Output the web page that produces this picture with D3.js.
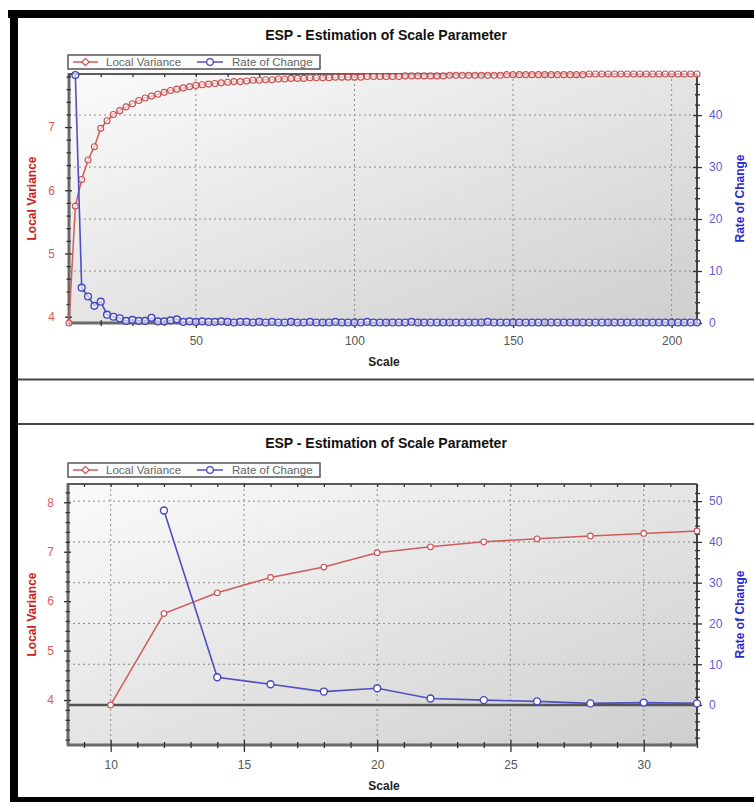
<!DOCTYPE html>
<html><head><meta charset="utf-8">
<script src="https://cdn.jsdelivr.net/npm/d3@7"></script>
<style>body{margin:0;background:#fff}svg{display:block;font-family:"Liberation Sans",Arial,sans-serif}</style>
</head><body><svg id="c" width="754" height="802"></svg>
<script>
const chartTitle = "ESP - Estimation of Scale Parameter";
const seriesNames = ["Local Variance", "Rate of Change"];
const xAxisTitle = "Scale";

const scales = [
  10,12,14,16,18,20,22,24,26,28,
  30,32,34,36,38,40,42,44,46,48,
  50,52,54,56,58,60,62,64,66,68,
  70,72,74,76,78,80,82,84,86,88,
  90,92,94,96,98,100,102,104,106,108,
  110,112,114,116,118,120,122,124,126,128,
  130,132,134,136,138,140,142,144,146,148,
  150,152,154,156,158,160,162,164,166,168,
  170,172,174,176,178,180,182,184,186,188,
  190,192,194,196,198,200,202,204,206,208];

const localVariance = [
  3.90,5.75,6.17,6.48,6.69,6.98,7.10,7.20,7.26,7.32,
  7.37,7.42,7.46,7.49,7.52,7.55,7.58,7.60,7.62,7.64,
  7.66,7.67,7.68,7.69,7.70,7.71,7.72,7.72,7.73,7.74,
  7.74,7.75,7.75,7.76,7.76,7.77,7.77,7.77,7.78,7.78,
  7.78,7.78,7.79,7.79,7.79,7.79,7.79,7.80,7.80,7.80,
  7.80,7.80,7.80,7.81,7.81,7.81,7.81,7.81,7.81,7.81,
  7.82,7.82,7.82,7.82,7.82,7.82,7.82,7.82,7.82,7.83,
  7.83,7.83,7.83,7.83,7.83,7.83,7.83,7.83,7.83,7.83,
  7.83,7.83,7.84,7.84,7.84,7.84,7.84,7.84,7.84,7.84,
  7.84,7.84,7.84,7.84,7.84,7.84,7.84,7.84,7.84,7.84];

const rateOfChange = [
  null,47.7,6.8,5.1,3.3,4.1,1.6,1.2,0.9,0.4,
  0.6,0.4,0.4,1.0,0.3,0.3,0.5,0.7,0.2,0.3,
  0.2,0.3,0.2,0.2,0.3,0.2,0.1,0.2,0.2,0.1,
  0.2,0.1,0.2,0.1,0.1,0.2,0.1,0.1,0.2,0.1,
  0.1,0.1,0.2,0.1,0.1,0.1,0.1,0.2,0.1,0.1,
  0.1,0.1,0.1,0.1,0.2,0.1,0.1,0.1,0.1,0.1,
  0.1,0.1,0.1,0.1,0.1,0.1,0.2,0.1,0.1,0.1,
  0.1,0.1,0.1,0.1,0.1,0.1,0.1,0.1,0.1,0.1,
  0.1,0.1,0.1,0.1,0.1,0.1,0.1,0.1,0.1,0.1,
  0.1,0.1,0.1,0.1,0.1,0.1,0.1,0.1,0.1,0.1];

const topXTicks = [50, 100, 150, 200];
const topLeftTicks = [4, 5, 6, 7];
const topRightTicks = [0, 10, 20, 30, 40];
const bottomXTicks = [10, 15, 20, 25, 30];
const bottomLeftTicks = [4, 5, 6, 7, 8];
const bottomRightTicks = [0, 10, 20, 30, 40, 50];

const RED_LINE = "#d05c5c", RED_MARK = "#c85050", RED_TXT = "#dd5a5a", RED_TITLE = "#cc2020";
const BLUE_LINE = "#5050c2", BLUE_MARK = "#4646be", BLUE_TXT = "#5c5cd0", BLUE_TITLE = "#2a2ad2";

const svg = d3.select("#c");
const defs = svg.append("defs");
const grad = defs.append("linearGradient").attr("id", "plotGrad")
  .attr("x1", 0).attr("y1", 0).attr("x2", 1).attr("y2", 1);
grad.append("stop").attr("offset", "0%").attr("stop-color", "#fbfbfb");
grad.append("stop").attr("offset", "100%").attr("stop-color", "#cecece");

// frame
svg.append("rect").attr("x", 8).attr("y", 10).attr("width", 746).attr("height", 8).attr("fill", "#000");
svg.append("rect").attr("x", 10).attr("y", 10).attr("width", 8).attr("height", 792).attr("fill", "#000");
svg.append("rect").attr("x", 10).attr("y", 797).attr("width", 744).attr("height", 5).attr("fill", "#000");
svg.append("line").attr("x1", 18).attr("x2", 754).attr("y1", 379.5).attr("y2", 379.5).attr("stroke", "#444").attr("stroke-width", 2);
svg.append("line").attr("x1", 18).attr("x2", 754).attr("y1", 424).attr("y2", 424).attr("stroke", "#444").attr("stroke-width", 2);

const diamond = {
  draw(ctx, size) {
    const r = Math.sqrt(size / 2);
    ctx.moveTo(0, -r); ctx.lineTo(r, 0); ctx.lineTo(0, r); ctx.lineTo(-r, 0); ctx.closePath();
  }
};

function drawChart(cfg) {
  const { L, R, T, B } = cfg;
  const x = d3.scaleLinear().domain(cfg.xDomain).range([L, R]);
  const yL = d3.scaleLinear().domain(cfg.yLDomain).range([B, T]);
  const yR = d3.scaleLinear().domain(cfg.yRDomain).range([B, T]);
  const g = svg.append("g");

  g.append("rect").attr("x", L).attr("y", T).attr("width", R - L).attr("height", B - T).attr("fill", "url(#plotGrad)");

  // grid
  g.append("g").selectAll("line").data(cfg.xTicks).join("line")
    .attr("x1", d => x(d)).attr("x2", d => x(d)).attr("y1", T).attr("y2", B)
    .attr("stroke", "#8c8c8c").attr("stroke-width", 1).attr("stroke-dasharray", "2,3");
  g.append("g").selectAll("line").data(cfg.yRTicks.filter(d => d !== 0)).join("line")
    .attr("x1", L).attr("x2", R).attr("y1", d => yR(d)).attr("y2", d => yR(d))
    .attr("stroke", "#8c8c8c").attr("stroke-width", 1).attr("stroke-dasharray", "2,3");

  // title
  g.append("text").attr("x", 386).attr("y", cfg.titleY).attr("text-anchor", "middle")
    .attr("font-size", 14).attr("font-weight", "bold").attr("fill", "#111").text(chartTitle);

  // legend
  const lg = g.append("g").attr("transform", `translate(68,${cfg.legendY})`);
  lg.append("rect").attr("width", 252).attr("height", 14).attr("fill", "#fcfcfc").attr("stroke", "#555").attr("stroke-width", 1.5);
  lg.append("line").attr("x1", 5).attr("x2", 30).attr("y1", 7).attr("y2", 7).attr("stroke", RED_LINE).attr("stroke-width", 1.5);
  lg.append("path").attr("d", d3.symbol(diamond, 26)()).attr("transform", "translate(17.5,7)")
    .attr("fill", "#fff").attr("stroke", RED_MARK).attr("stroke-width", 1.2);
  lg.append("text").attr("x", 38).attr("y", 11).attr("font-size", 11.5).attr("fill", "#666").text(seriesNames[0]);
  lg.append("line").attr("x1", 129).attr("x2", 155).attr("y1", 7).attr("y2", 7).attr("stroke", BLUE_LINE).attr("stroke-width", 1.5);
  lg.append("circle").attr("cx", 142).attr("cy", 7).attr("r", 3.3).attr("fill", "#fff").attr("stroke", BLUE_MARK).attr("stroke-width", 1.2);
  lg.append("text").attr("x", 164).attr("y", 11).attr("font-size", 11.5).attr("fill", "#666").text(seriesNames[1]);

  // axis lines
  g.append("line").attr("x1", L).attr("x2", R).attr("y1", T).attr("y2", T).attr("stroke", "#5a5a5a").attr("stroke-width", 2);
  g.append("line").attr("x1", R).attr("x2", R).attr("y1", T).attr("y2", B).attr("stroke", "#444").attr("stroke-width", 2);
  g.append("line").attr("x1", L).attr("x2", L).attr("y1", T - 1).attr("y2", B + 1).attr("stroke", "#6a6a6a").attr("stroke-width", 3);
  g.append("line").attr("x1", L - 1).attr("x2", R + 1).attr("y1", B).attr("y2", B).attr("stroke", "#6a6a6a").attr("stroke-width", 3);

  function styleAxis(sel, color) {
    sel.select(".domain").remove();
    sel.selectAll("line").attr("stroke", "#333").attr("stroke-width", 1.3);
    sel.selectAll("text").attr("fill", color).attr("font-size", 12).attr("font-family", '"Liberation Sans",Arial,sans-serif');
  }

  // left axis
  styleAxis(g.append("g").attr("transform", `translate(${L},0)`)
    .call(d3.axisLeft(yL).tickValues(cfg.yLTicks).tickSize(4).tickPadding(10).tickFormat(d3.format("d"))), RED_TXT);
  styleAxis(g.append("g").attr("transform", `translate(${L},0)`)
    .call(d3.axisRight(yL).tickValues(cfg.yLTicks).tickSize(3).tickFormat("")), RED_TXT);
  styleAxis(g.append("g").attr("transform", `translate(${L},0)`)
    .call(d3.axisLeft(yL).tickValues(cfg.yLMinor).tickSize(2.5).tickFormat("")), RED_TXT);
  styleAxis(g.append("g").attr("transform", `translate(${L},0)`)
    .call(d3.axisRight(yL).tickValues(cfg.yLMinor).tickSize(2).tickFormat("")), RED_TXT);

  // right axis
  styleAxis(g.append("g").attr("transform", `translate(${R},0)`)
    .call(d3.axisRight(yR).tickValues(cfg.yRTicks).tickSize(5).tickPadding(7).tickFormat(d3.format("d"))), BLUE_TXT);
  styleAxis(g.append("g").attr("transform", `translate(${R},0)`)
    .call(d3.axisLeft(yR).tickValues(cfg.yRTicks).tickSize(4).tickFormat("")), BLUE_TXT);
  styleAxis(g.append("g").attr("transform", `translate(${R},0)`)
    .call(d3.axisRight(yR).tickValues(cfg.yRMinor).tickSize(3).tickFormat("")), BLUE_TXT);
  styleAxis(g.append("g").attr("transform", `translate(${R},0)`)
    .call(d3.axisLeft(yR).tickValues(cfg.yRMinor).tickSize(2).tickFormat("")), BLUE_TXT);

  // bottom axis
  styleAxis(g.append("g").attr("transform", `translate(0,${B})`)
    .call(d3.axisBottom(x).tickValues(cfg.xTicks).tickSize(cfg.xMajorLen).tickPadding(8).tickFormat(d3.format("d"))), "#555");
  styleAxis(g.append("g").attr("transform", `translate(0,${B})`)
    .call(d3.axisTop(x).tickValues(cfg.xTicks).tickSize(5).tickFormat("")), "#555");
  styleAxis(g.append("g").attr("transform", `translate(0,${B})`)
    .call(d3.axisBottom(x).tickValues(cfg.xMinor).tickSize(3).tickFormat("")), "#555");
  styleAxis(g.append("g").attr("transform", `translate(0,${B})`)
    .call(d3.axisTop(x).tickValues(cfg.xMinor).tickSize(3).tickFormat("")), "#555");
  // top edge ticks
  styleAxis(g.append("g").attr("transform", `translate(0,${T})`)
    .call(d3.axisBottom(x).tickValues(cfg.xTicks.concat(cfg.xMinor)).tickSize(3).tickFormat("")), "#555");

  // axis titles
  g.append("text").attr("x", 384).attr("y", cfg.xTitleY).attr("text-anchor", "middle")
    .attr("font-size", 12).attr("font-weight", "bold").attr("fill", "#222").text(xAxisTitle);
  g.append("text").attr("transform", `translate(32,${(T + B) / 2}) rotate(-90)`).attr("text-anchor", "middle")
    .attr("dominant-baseline", "central").attr("font-size", 12).attr("font-weight", "bold").attr("fill", RED_TITLE).text(seriesNames[0]);
  g.append("text").attr("transform", `translate(740,${(T + B) / 2}) rotate(-90)`).attr("text-anchor", "middle")
    .attr("dominant-baseline", "central").attr("font-size", 12).attr("font-weight", "bold").attr("fill", BLUE_TITLE).text(seriesNames[1]);

  // zero line (right axis 0)
  if (cfg.zeroLine) {
    g.append("line").attr("x1", L).attr("x2", R).attr("y1", yR(0)).attr("y2", yR(0))
      .attr("stroke", "#555").attr("stroke-width", 2.5);
  }

  // data
  const rows = scales.map((s, i) => ({ s, lv: localVariance[i], rc: rateOfChange[i] }))
    .filter(d => d.s <= cfg.xDomain[1]);

  const lvLine = d3.line().x(d => x(d.s)).y(d => yL(d.lv));
  const rcRows = rows.filter(d => d.rc !== null);
  const rcLine = d3.line().x(d => x(d.s)).y(d => yR(d.rc));

  g.append("path").datum(rows).attr("d", lvLine).attr("fill", "none").attr("stroke", RED_LINE).attr("stroke-width", 1.5);
  g.append("g").selectAll("circle").data(rows).join("circle")
    .attr("cx", d => x(d.s)).attr("cy", d => yL(d.lv)).attr("r", cfg.redR)
    .attr("fill", "#fff").attr("fill-opacity", cfg.redFill).attr("stroke", RED_MARK).attr("stroke-width", 1.1);

  g.append("path").datum(rcRows).attr("d", rcLine).attr("fill", "none").attr("stroke", BLUE_LINE).attr("stroke-width", 1.6);
  g.append("g").selectAll("circle").data(rcRows).join("circle")
    .attr("cx", d => x(d.s)).attr("cy", d => yR(d.rc)).attr("r", cfg.blueR)
    .attr("fill", "#fff").attr("fill-opacity", cfg.blueFill).attr("stroke", BLUE_MARK).attr("stroke-width", 1.4);
}

drawChart({
  L: 69, R: 697, T: 74, B: 323,
  xDomain: [10, 208], yLDomain: [3.9, 7.84], yRDomain: [0, 47.9],
  xTicks: topXTicks, xMinor: d3.range(10, 201, 10).filter(v => !topXTicks.includes(v)),
  yLTicks: topLeftTicks, yLMinor: d3.range(40, 79, 2).map(v => v / 10).filter(v => !topLeftTicks.includes(v)),
  yRTicks: topRightTicks, yRMinor: d3.range(2, 48, 2).filter(v => !topRightTicks.includes(v)),
  xMajorLen: 5, titleY: 40, legendY: 55, xTitleY: 366,
  zeroLine: false, redR: 3, redFill: 0.6, blueR: 3.4, blueFill: 0.6
});

drawChart({
  L: 68, R: 697, T: 484, B: 745,
  xDomain: [8.4, 32], yLDomain: [3.09, 8.37], yRDomain: [-9.8, 54.2],
  xTicks: bottomXTicks, xMinor: d3.range(9, 33, 1).filter(v => !bottomXTicks.includes(v)),
  yLTicks: bottomLeftTicks, yLMinor: d3.range(32, 84, 2).map(v => v / 10).filter(v => !bottomLeftTicks.includes(v)),
  yRTicks: bottomRightTicks, yRMinor: d3.range(-8, 54, 2).filter(v => !bottomRightTicks.includes(v)),
  xMajorLen: 7, titleY: 448, legendY: 463, xTitleY: 790,
  zeroLine: true, redR: 2.8, redFill: 1, blueR: 3.5, blueFill: 1
});
</script></body></html>
